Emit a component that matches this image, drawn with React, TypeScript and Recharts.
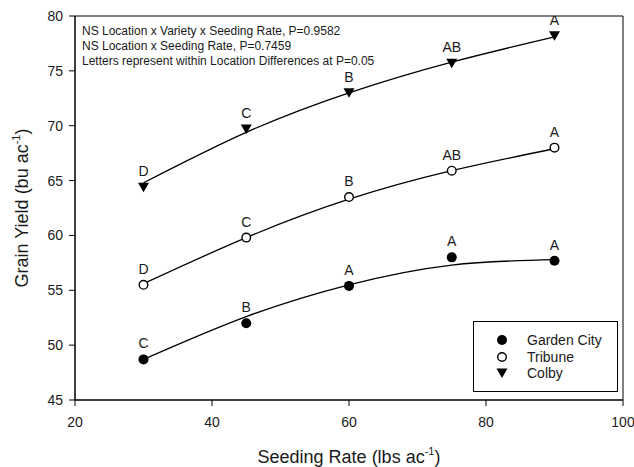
import { ComposedChart, Line, Scatter, XAxis, YAxis, Legend, ReferenceArea } from 'recharts';

document.body.style.margin = '0';

const FONT = '"Liberation Sans", Arial, sans-serif';

const rates = [30, 45, 60, 75, 90];

const gardenCity = [48.7, 52.0, 55.4, 58.0, 57.7];
const tribune = [55.5, 59.8, 63.5, 65.9, 68.0];
const colby = [64.4, 69.7, 73.0, 75.7, 78.2];

// quadratic fit lines
const gardenCityFit = [48.7, 52.6, 55.5, 57.3, 57.8];
const tribuneFit = [55.6, 59.8, 63.3, 65.9, 67.9];
const colbyFit = [64.8, 69.4, 73.0, 75.8, 78.1];

const gardenCityLetters = ['C', 'B', 'A', 'A', 'A'];
const tribuneLetters = ['D', 'C', 'B', 'AB', 'A'];
const colbyLetters = ['D', 'C', 'B', 'AB', 'A'];

const xTicks = [20, 40, 60, 80, 100];
const yTicks = [45, 50, 55, 60, 65, 70, 75, 80];

const notes = [
  'NS Location x Variety x Seeding Rate, P=0.9582',
  'NS Location x Seeding Rate, P=0.7459',
  'Letters represent within Location Differences at P=0.05',
];

const toPoints = (ys: number[], letters?: string[]) =>
  rates.map((x, i) => ({ x, y: ys[i], letter: letters ? letters[i] : '' }));

type Kind = 'filled' | 'open' | 'triangle';

function Marker({ kind, cx, cy }: { kind: Kind; cx: number; cy: number }) {
  if (kind === 'filled') return <circle cx={cx} cy={cy} r={5} fill="#000" />;
  if (kind === 'open') return <circle cx={cx} cy={cy} r={4.3} fill="#fff" stroke="#000" strokeWidth={1.4} />;
  return <polygon points={`${cx - 5.5},${cy - 4.5} ${cx + 5.5},${cy - 4.5} ${cx},${cy + 5}`} fill="#000" />;
}

const makeShape = (kind: Kind) => (props: any) => {
  const { cx, cy, payload } = props;
  return (
    <g>
      <Marker kind={kind} cx={cx} cy={cy} />
      <text x={cx} y={cy - 11} textAnchor="middle" fontSize={14} fontFamily={FONT} fill="#1a1a1a">
        {payload.letter}
      </text>
    </g>
  );
};

const legendItems: { name: string; kind: Kind }[] = [
  { name: 'Garden City', kind: 'filled' },
  { name: 'Tribune', kind: 'open' },
  { name: 'Colby', kind: 'triangle' },
];

function LegendBox() {
  return (
    <div style={{ position: 'relative', width: 143, height: 69, fontFamily: FONT, fontSize: 14, color: '#1a1a1a' }}>
      {legendItems.map((it, i) => (
        <div key={it.name} style={{ position: 'absolute', left: 0, top: 10 + i * 16.5, height: 16, width: 143 }}>
          <svg width={40} height={16} style={{ position: 'absolute', left: 12, top: 0 }}>
            <Marker kind={it.kind} cx={16} cy={8} />
          </svg>
          <span style={{ position: 'absolute', left: 53, top: -1, lineHeight: '18px', whiteSpace: 'nowrap' }}>{it.name}</span>
        </div>
      ))}
    </div>
  );
}

function XTitle(props: any) {
  const { viewBox } = props;
  const cx = viewBox.x + viewBox.width / 2;
  return (
    <text x={cx} y={viewBox.y + 63} textAnchor="middle" fontSize={18} fontFamily={FONT} fill="#1a1a1a">
      Seeding Rate (lbs ac
      <tspan fontSize={11} dy={-8}>-1</tspan>
      <tspan dy={8}>)</tspan>
    </text>
  );
}

function YTitle() {
  return (
    <text
      x={22}
      y={208}
      transform="rotate(-90, 22, 208)"
      textAnchor="middle"
      dy="0.35em"
      fontSize={18}
      fontFamily={FONT}
      fill="#1a1a1a"
    >
      Grain Yield (bu ac
      <tspan fontSize={11} dy={-8}>-1</tspan>
      <tspan dy={8}>)</tspan>
    </text>
  );
}

function Notes(props: any) {
  const { viewBox } = props;
  return (
    <text x={viewBox.x + 7} y={viewBox.y + 19} fontSize={12} fontFamily={FONT} fill="#1a1a1a">
      {notes.map((n, i) => (
        <tspan key={i} x={viewBox.x + 7} dy={i === 0 ? 0 : 15}>
          {n}
        </tspan>
      ))}
    </text>
  );
}

export default function App() {
  const tick = { fontSize: 14, fontFamily: FONT, fill: '#1a1a1a' };
  return (
    <div style={{ background: '#fff', width: 634, height: 467 }}>
      <ComposedChart width={634} height={467} margin={{ top: 16, right: 11, left: 0, bottom: 0 }}>
        <XAxis
          dataKey="x"
          type="number"
          domain={[20, 100]}
          ticks={xTicks}
          allowDataOverflow
          height={67}
          tickSize={6}
          tickMargin={11}
          tick={tick}
          stroke="#000"
          label={<XTitle />}
        />
        <YAxis
          dataKey="y"
          type="number"
          domain={[45, 80]}
          ticks={yTicks}
          allowDataOverflow
          width={75}
          tickSize={6}
          tickMargin={6}
          tick={tick}
          stroke="#000"
          label={<YTitle />}
        />
        <ReferenceArea x1={20} x2={100} y1={45} y2={80} fill="none" stroke="#000" strokeWidth={1} ifOverflow="visible" label={<Notes />} />
        <Line data={toPoints(gardenCityFit)} dataKey="y" type="natural" stroke="#000" strokeWidth={1.3} dot={false} isAnimationActive={false} legendType="none" />
        <Line data={toPoints(tribuneFit)} dataKey="y" type="natural" stroke="#000" strokeWidth={1.3} dot={false} isAnimationActive={false} legendType="none" />
        <Line data={toPoints(colbyFit)} dataKey="y" type="natural" stroke="#000" strokeWidth={1.3} dot={false} isAnimationActive={false} legendType="none" />
        <Scatter name="Garden City" data={toPoints(gardenCity, gardenCityLetters)} dataKey="y" shape={makeShape('filled')} isAnimationActive={false} />
        <Scatter name="Tribune" data={toPoints(tribune, tribuneLetters)} dataKey="y" shape={makeShape('open')} isAnimationActive={false} />
        <Scatter name="Colby" data={toPoints(colby, colbyLetters)} dataKey="y" shape={makeShape('triangle')} isAnimationActive={false} />
        <Legend
          layout="vertical"
          align="center"
          verticalAlign="middle"
          content={() => <LegendBox />}
          wrapperStyle={{ left: 473, top: 321, width: 145, height: 71, border: '1px solid #000', background: '#fff', boxSizing: 'border-box' }}
        />
      </ComposedChart>
    </div>
  );
}
